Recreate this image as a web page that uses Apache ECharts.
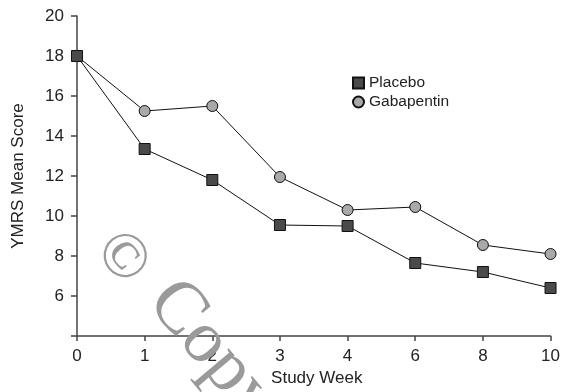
<!DOCTYPE html>
<html><head><meta charset="utf-8">
<script src="https://cdn.jsdelivr.net/npm/echarts@6/dist/echarts.min.js"></script>
<style>html,body{margin:0;padding:0;background:#fff}#c{width:563px;height:392px}</style>
</head><body><div id="c"></div>
<script>
const weeks = ['0','1','2','3','4','6','8','10'];
const placebo = [18, 13.35, 11.8, 9.55, 9.5, 7.65, 7.2, 6.4];
const gabapentin = [18, 15.25, 15.5, 11.95, 10.3, 10.45, 8.55, 8.1];
const yTicks = [4, 6, 8, 10, 12, 14, 16, 18, 20];

const chart = echarts.init(document.getElementById('c'), null, {renderer:'canvas'});
const axisCol = '#444';
const font = 'Liberation Sans, Arial, sans-serif';
const wmFill = '#9a9a9a';
chart.setOption({
  animation:false,
  backgroundColor:'#fff',
  grid:{left:77,right:10,top:16,bottom:56,containLabel:false},
  legend:{
    left:352, top:75, padding:0, orient:'vertical', itemGap:3, itemWidth:11, itemHeight:11,
    textStyle:{fontFamily:font,fontSize:15.5,lineHeight:16,color:'#222'},
    data:[{name:'Placebo',icon:'rect'},{name:'Gabapentin',icon:'circle'}]
  },
  xAxis:{
    type:'category', data:weeks, boundaryGap:false,
    name:'Study Week', nameLocation:'middle', nameGap:33,
    nameTextStyle:{fontFamily:font,fontSize:17,color:'#222',padding:[0,0,0,6]},
    axisLine:{lineStyle:{color:axisCol,width:1.5}},
    axisTick:{length:5,lineStyle:{color:axisCol,width:1.5},alignWithLabel:true},
    axisLabel:{fontFamily:font,fontSize:17,color:'#222',margin:12},
    splitLine:{show:false}
  },
  yAxis:{
    type:'value', min:yTicks[0], max:yTicks[yTicks.length-1], interval:2,
    name:'YMRS Mean Score', nameLocation:'middle', nameGap:50,
    nameTextStyle:{fontFamily:font,fontSize:17,color:'#222'},
    axisLine:{show:true,lineStyle:{color:axisCol,width:1.5}},
    axisTick:{show:true,length:6,lineStyle:{color:axisCol,width:1.5}},
    axisLabel:{fontFamily:font,fontSize:17,color:'#222',margin:13,
      formatter:v=> v===yTicks[0] ? '' : String(v)},
    splitLine:{show:false}
  },
  series:[
    {name:'Placebo',type:'line',data:placebo,symbol:'rect',symbolSize:11,
     lineStyle:{color:'#111',width:1},
     itemStyle:{color:'#4a4a4a',borderColor:'#111',borderWidth:1},z:3},
    {name:'Gabapentin',type:'line',data:gabapentin,symbol:'circle',symbolSize:11,
     lineStyle:{color:'#111',width:1},
     itemStyle:{color:'#a9a9a9',borderColor:'#111',borderWidth:1},z:2}
  ],
  graphic:[{
    type:'text', x:107, y:239, rotation:-52*Math.PI/180, z:10,
    style:{text:'©', font:'64px "Liberation Serif", serif', fill:wmFill,
      textAlign:'left', textVerticalAlign:'middle'}
  },{
    type:'text', x:161, y:290, rotation:-50*Math.PI/180, z:10,
    style:{text:'Copyright', font:'74px "Liberation Serif", serif', fill:wmFill,
      textAlign:'left', textVerticalAlign:'middle'}
  }]
});
</script></body></html>
